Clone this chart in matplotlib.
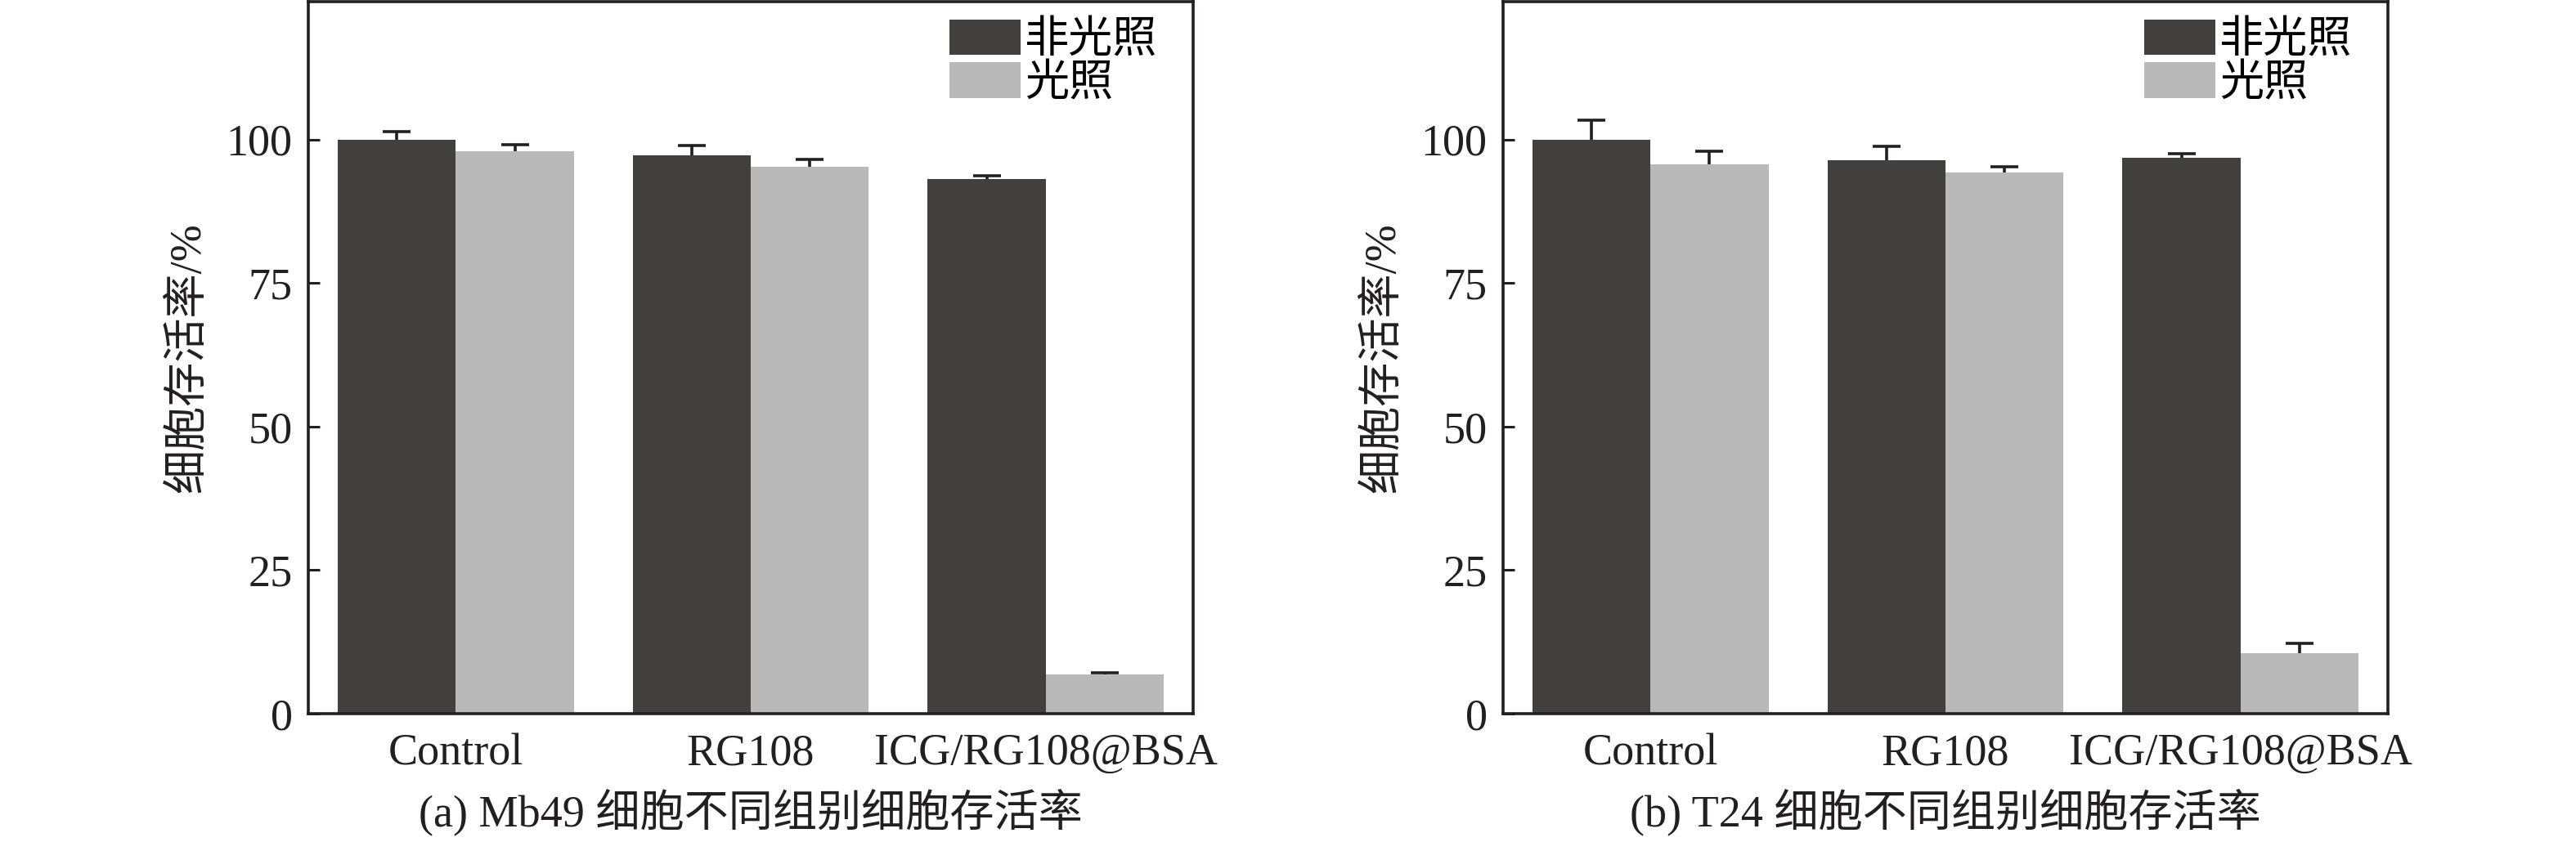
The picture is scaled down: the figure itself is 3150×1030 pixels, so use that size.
import numpy as np
import matplotlib
matplotlib.use("Agg")
import matplotlib.pyplot as plt

plt.rcParams["font.family"] = ["Liberation Serif", "Noto Sans CJK SC"]

groups = ["Control", "RG108", "ICG/RG108@BSA"]
series_names = ["非光照", "光照"]

# Mb49 cells
mb49_dark = [100.0, 97.3, 93.1]
mb49_dark_err = [1.4, 1.7, 0.6]
mb49_light = [97.9, 95.2, 6.8]
mb49_light_err = [1.2, 1.3, 0.3]

# T24 cells
t24_dark = [100.0, 96.4, 96.8]
t24_dark_err = [3.3, 2.4, 0.7]
t24_light = [95.7, 94.2, 10.6]
t24_light_err = [2.2, 1.0, 1.6]

yticks = [0, 25, 50, 75, 100]
captions = ["(a) Mb49 细胞不同组别细胞存活率", "(b) T24 细胞不同组别细胞存活率"]
ylabel = "细胞存活率/%"

DARK = "#42403e"
LIGHT = "#b9b9b9"
INK = "#231f20"
FS = 39


def draw_panel(ax, dark, dark_err, light, light_err, caption):
    x = np.arange(len(groups))
    w = 0.4
    # error bars go under the bars so only the upper half shows
    ax.errorbar(x - w / 2, dark, yerr=dark_err, fmt="none", ecolor=INK,
                elinewidth=2.6, capsize=12, capthick=2.6, zorder=1)
    ax.errorbar(x + w / 2, light, yerr=light_err, fmt="none", ecolor=INK,
                elinewidth=2.6, capsize=12, capthick=2.6, zorder=1)
    ax.bar(x - w / 2, dark, width=w, color=DARK, label=series_names[0], zorder=2)
    ax.bar(x + w / 2, light, width=w, color=LIGHT, label=series_names[1], zorder=2)

    ax.set_xlim(-0.5, 2.5)
    ax.set_ylim(0, 124)
    ax.set_yticks(yticks)
    ax.set_xticks(x)
    ax.set_xticklabels(groups)
    ax.tick_params(axis="y", direction="in", length=10, width=2.2,
                   labelsize=FS, pad=14, colors=INK)
    ax.tick_params(axis="x", length=0, labelsize=FS, pad=17, colors=INK)
    for s in ax.spines.values():
        s.set_linewidth(2.6)
        s.set_color(INK)
        s.set_zorder(3)

    ax.set_ylabel(ylabel, fontsize=FS, color=INK)
    ax.yaxis.set_label_coords(-0.112, 0.5)

    ax.legend(loc="upper left", bbox_to_anchor=(0.7246, 0.975), frameon=False,
              fontsize=FS, handlelength=1.6, handleheight=0.86, handletextpad=0.1,
              labelspacing=0.0, borderpad=0.0, borderaxespad=0.0)

    ax.text(0.5, -0.138, caption, transform=ax.transAxes, ha="center", va="center",
            fontsize=FS, color=INK)


fig = plt.figure(figsize=(31.5, 10.3), dpi=100)
ax1 = fig.add_axes([0.1197, 0.1524, 0.3435, 0.8456])
ax2 = fig.add_axes([0.5835, 0.1524, 0.3435, 0.8456])

draw_panel(ax1, mb49_dark, mb49_dark_err, mb49_light, mb49_light_err, captions[0])
draw_panel(ax2, t24_dark, t24_dark_err, t24_light, t24_light_err, captions[1])

fig.savefig("out.png", dpi=100)
